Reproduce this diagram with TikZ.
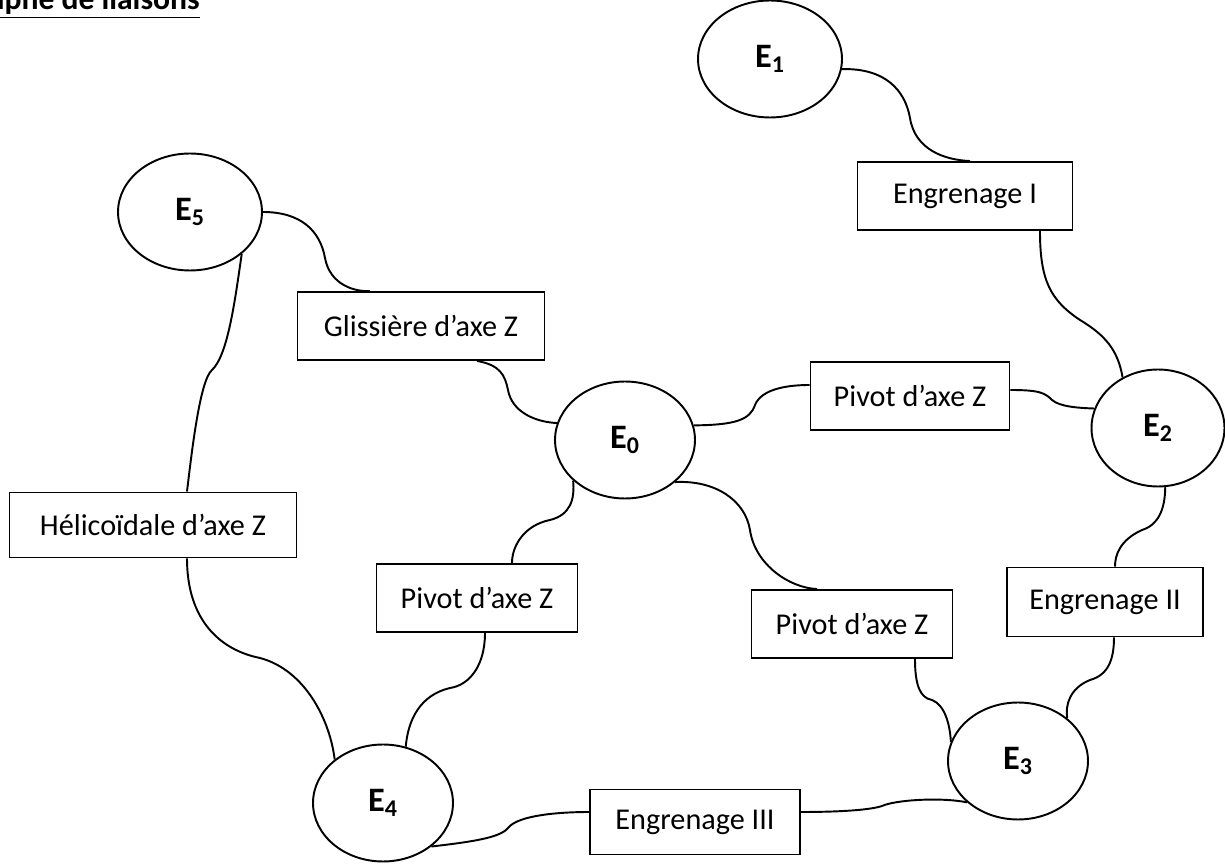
\documentclass[tikz,border=0pt]{standalone}
\usepackage{fontspec}
\setmainfont{Carlito}
\usetikzlibrary{shapes.geometric}

\begin{document}
\begin{tikzpicture}[x=0.02cm,y=-0.02cm]
	\tikzset{
		piece/.style={draw,ellipse,line width=1.1pt,minimum width=2.8cm,minimum height=2.34cm,inner sep=0pt,font=\fontsize{19.5}{23}\selectfont\bfseries},
		liaison/.style={draw,rectangle,line width=1.1pt,minimum height=1.36cm,inner sep=0pt,font=\fontsize{17.2}{20}\selectfont},
		lien/.style={line width=1.1pt}}
	\clip (0,0) rectangle (1225,864);
	\useasboundingbox (0,0) rectangle (1225,864);
	\node[anchor=base west,font=\fontsize{18}{21}\selectfont\bfseries](titre) at (-48,10){\underline{Graphe de liaisons}};
	\node[piece](E0) at (625,440){E\textsubscript{0}};
	\node[piece,minimum width=2.88cm](E1) at (770,59){E\textsubscript{1}};
	\node[piece,minimum width=2.66cm](E2) at (1158,428){E\textsubscript{2}};
	\node[piece](E3) at (1018,761){E\textsubscript{3}};
	\node[piece](E4) at (383,803){E\textsubscript{4}};
	\node[piece,minimum width=2.88cm](E5) at (190,212){E\textsubscript{5}};
	\node[liaison,minimum width=4.3cm](eng1) at (965,196){Engrenage I};
	\node[liaison,minimum width=4.94cm](glis) at (421,326){Glissière d'axe Z};
	\node[liaison,minimum width=3.98cm](pivA) at (910,396){Pivot d'axe Z};
	\node[liaison,minimum width=5.74cm,minimum height=1.3cm](helic) at (153,525){Hélicoïdale d'axe Z};
	\node[liaison,minimum width=4.02cm](pivB) at (477,598){Pivot d'axe Z};
	\node[liaison,minimum width=4.02cm](pivC) at (852,624){Pivot d'axe Z};
	\node[liaison,minimum width=3.92cm,minimum height=1.38cm](eng2) at (1105,602){Engrenage II};
	\node[liaison,minimum width=4.2cm,minimum height=1.3cm](eng3) at (695,822){Engrenage III};
	\draw[lien](E1.-8) .. controls (885,68) and (905,90) .. (910,118) .. controls (915,150) and (945,160) .. ([xshift=0.1cm]eng1.north);
	\draw[lien]([xshift=1.5cm]eng1.south) .. controls (1040,280) and (1050,300) .. (1080,320) .. controls (1105,335) and (1118,350) .. (E2.125);
	\draw[lien](E5.east) .. controls (300,212) and (320,230) .. (325,258) .. controls (330,285) and (355,292) .. ([xshift=-1.02cm]glis.north);
	\draw[lien]([xshift=1.12cm]glis.south) .. controls (500,365) and (505,375) .. (508,390) .. controls (512,412) and (535,422) .. (E0.166);
	\draw[lien](E0.12) .. controls (735,425) and (750,420) .. (755,405) .. controls (762,388) and (790,385) .. ([yshift=0.22cm]pivA.west);
	\draw[lien]([yshift=0.12cm]pivA.east) .. controls (1040,390) and (1045,393) .. (1052,400) .. controls (1060,407) and (1080,408) .. (E2.163);
	\draw[lien](E2.-83) .. controls (1165,510) and (1158,525) .. (1142,530) .. controls (1120,540) and (1115,555) .. ([xshift=0.2cm]eng2.north);
	\draw[lien]([xshift=0.18cm]eng2.south) .. controls (1114,660) and (1108,675) .. (1090,680) .. controls (1070,688) and (1065,705) .. (E3.41);
	\draw[lien](E0.-40) .. controls (715,480) and (745,500) .. (750,530) .. controls (755,565) and (790,588) .. ([xshift=-0.7cm]pivC.north);
	\draw[lien]([xshift=1.26cm]pivC.south) .. controls (915,685) and (920,698) .. (932,700) .. controls (945,705) and (950,725) .. (E3.164);
	\draw[lien](E0.-142) .. controls (575,500) and (570,515) .. (550,520) .. controls (525,525) and (512,545) .. ([xshift=0.7cm]pivB.north);
	\draw[lien]([xshift=0.16cm]pivB.south) .. controls (485,665) and (470,685) .. (450,688) .. controls (420,695) and (408,720) .. (E4.68);
	\draw[lien](E5.-39) .. controls (235,300) and (228,355) .. (212,370) .. controls (200,380) and (192,450) .. ([xshift=0.68cm]helic.north);
	\draw[lien]([xshift=0.68cm]helic.south) .. controls (187,620) and (220,650) .. (260,658) .. controls (305,670) and (330,720) .. (E4.138);
	\draw[lien](E4.-42) .. controls (470,842) and (500,838) .. (508,828) .. controls (518,815) and (560,812) .. ([yshift=0.2cm]eng3.west);
	\draw[lien]([yshift=0.2cm]eng3.east) .. controls (840,812) and (870,810) .. (882,806) .. controls (895,800) and (940,797) .. (E3.-141);
\end{tikzpicture}
\end{document}
